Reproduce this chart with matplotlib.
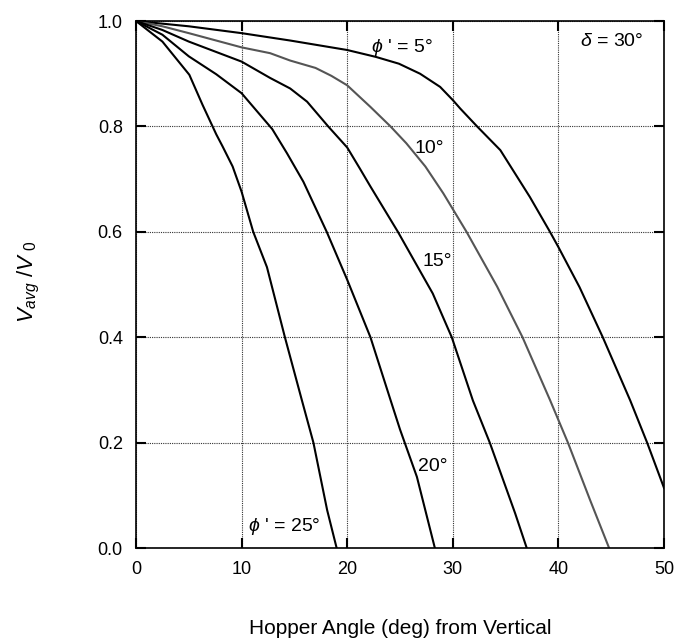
import matplotlib
matplotlib.use("Agg")
import matplotlib.pyplot as plt

plt.rcParams['font.family'] = ['Liberation Sans', 'DejaVu Sans']
plt.rcParams['mathtext.fontset'] = 'custom'
plt.rcParams['mathtext.rm'] = 'Liberation Sans'
plt.rcParams['mathtext.it'] = 'Liberation Sans:italic'

# phi' = 5 deg
x5 = [0, 2.5, 5, 10, 14.6, 20, 22.7, 24.9, 26.9, 28.8, 30, 30.7, 32.3, 34.5, 37.3, 39.2, 40, 42, 44.2, 46.8, 48.4, 50]
y5 = [1.0, 0.995, 0.990, 0.977, 0.963, 0.945, 0.932, 0.919, 0.900, 0.875, 0.85, 0.834, 0.80, 0.755, 0.666, 0.60, 0.571, 0.495, 0.40, 0.28, 0.20, 0.114]
# phi' = 10 deg
x10 = [0, 2.5, 5, 10, 12.7, 14.6, 17.0, 18.5, 20, 22.2, 24.1, 25.6, 27.4, 29.1, 31.3, 34.2, 36.6, 39.2, 40.9, 43, 44.8]
y10 = [1.0, 0.99, 0.977, 0.950, 0.939, 0.925, 0.911, 0.896, 0.878, 0.837, 0.80, 0.768, 0.724, 0.673, 0.60, 0.496, 0.40, 0.281, 0.20, 0.091, 0.0]
# phi' = 15 deg
x15 = [0, 2.5, 5, 10, 12.7, 14.6, 16.2, 18.2, 20, 21.2, 22.2, 24.8, 28.1, 29.9, 31.9, 33.5, 35.9, 37.0]
y15 = [1.0, 0.983, 0.961, 0.923, 0.892, 0.872, 0.847, 0.80, 0.76, 0.72, 0.686, 0.60, 0.483, 0.40, 0.28, 0.20, 0.066, 0.0]
# phi' = 20 deg
x20 = [0, 2.5, 5, 7.6, 10, 12.9, 14.3, 15.85, 18.06, 20, 22.2, 24.1, 25, 26.6, 28.3]
y20 = [1.0, 0.974, 0.933, 0.899, 0.863, 0.795, 0.749, 0.695, 0.60, 0.509, 0.40, 0.281, 0.225, 0.135, 0.0]
# phi' = 25 deg
x25 = [0, 2.5, 5.05, 6.3, 7.6, 8.2, 9.15, 10, 11.1, 12.4, 14.1, 15.7, 16.8, 18.1, 19.0]
y25 = [1.0, 0.961, 0.898, 0.841, 0.785, 0.762, 0.724, 0.676, 0.60, 0.533, 0.40, 0.281, 0.20, 0.072, 0.0]

xticks = [0, 10, 20, 30, 40, 50]
yticks = [0.0, 0.2, 0.4, 0.6, 0.8, 1.0]
ytick_labels = ['0.0', '0.2', '0.4', '0.6', '0.8', '1.0']

fig = plt.figure(figsize=(6.8, 6.43), dpi=100)
ax = fig.add_axes([0.2, 0.1477, 0.7765, 0.8196])

ax.plot(x5, y5, color='black', lw=1.5)
ax.plot(x10, y10, color='#555555', lw=1.5)
ax.plot(x15, y15, color='black', lw=1.5)
ax.plot(x20, y20, color='black', lw=1.5)
ax.plot(x25, y25, color='black', lw=1.5)

ax.set_xlim(0, 50)
ax.set_ylim(0, 1.0)
ax.set_xticks(xticks)
ax.set_yticks(yticks)
ax.set_yticklabels(ytick_labels)
ax.grid(True, color='#333333', linestyle=(0, (1, 1)), lw=0.8)
ax.tick_params(direction='in', length=7.5, width=1.5, top=True, right=True,
               labelsize=13, pad=9.5)
for s in ax.spines.values():
    s.set_linewidth(1.2)

fs = 14
ax.text(22.3, 0.95, "$\\phi$ ' = 5°", fontsize=fs, ha='left', va='center')
ax.text(42.0, 0.962, "$\\delta$ = 30°", fontsize=fs, ha='left', va='center')
ax.text(26.4, 0.759, "10°", fontsize=fs, ha='left', va='center')
ax.text(27.1, 0.543, "15°", fontsize=fs, ha='left', va='center')
ax.text(26.7, 0.154, "20°", fontsize=fs, ha='left', va='center')
ax.text(10.6, 0.04, "$\\phi$ ' = 25°", fontsize=fs, ha='left', va='center')

fig.text(0.588, 0.023, "Hopper Angle (deg) from Vertical", fontsize=15,
         ha='center', va='center')
fig.text(0.043, 0.561, "$V_{avg}$ /$V_{\\ 0}$", fontsize=16, rotation=90,
         ha='center', va='center')

fig.savefig("out.png", dpi=100)
